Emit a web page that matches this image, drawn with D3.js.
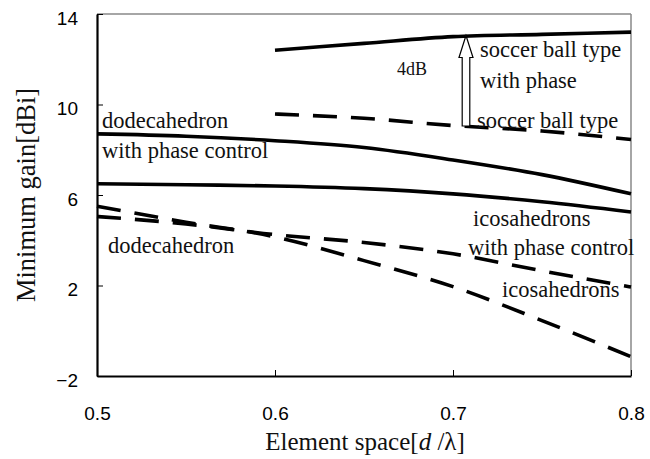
<!DOCTYPE html>
<html>
<head>
<meta charset="utf-8">
<script src="https://cdn.jsdelivr.net/npm/d3@7"></script>
<style>
  body { margin: 0; background: #fff; }
  svg { display: block; }
  .tick text { font-family: "Liberation Sans", Arial, sans-serif; font-size: 19px; fill: #000; }
  .lbl { font-family: "Liberation Serif", "Times New Roman", serif; font-size: 22.5px; fill: #111; }
</style>
</head>
<body>
<figure id="chart" style="margin:0"></figure>
<script>
// element spacing d/lambda
const spacing = [0.5, 0.55, 0.6, 0.65, 0.7, 0.75, 0.8];
const dodecaPhase = [8.7, 8.6, 8.4, 8.1, 7.55, 6.9, 6.05];
const icosaPhase = [6.5, 6.45, 6.4, 6.28, 6.05, 5.7, 5.25];
const dodeca = [5.5, 4.8, 4.15, 3.1, 1.95, 0.45, -1.15];
const icosa = [5.05, 4.72, 4.25, 3.9, 3.4, 2.65, 1.93];
// soccer ball type only computed from 0.6
const soccerSpacing = [0.6, 0.65, 0.7, 0.75, 0.8];
const soccerPhase = [12.4, 12.7, 13.0, 13.1, 13.2];
const soccer = [9.58, 9.39, 9.07, 8.83, 8.45];

const xTicks = [0.5, 0.6, 0.7, 0.8];
const yTicks = [-2, 2, 6, 10, 14];

const width = 650, height = 459;
const margin = { top: 14, right: 19, bottom: 83, left: 97 };

const svg = d3.select('#chart').append('svg')
  .attr('width', width)
  .attr('height', height);

const x = d3.scaleLinear().domain([0.5, 0.8]).range([margin.left, width - margin.right]);
const y = d3.scaleLinear().domain([-2, 14]).range([height - margin.bottom, margin.top]);

// frame: top and right in grey
svg.append('line')
  .attr('x1', x(0.5)).attr('x2', x(0.8))
  .attr('y1', y(14)).attr('y2', y(14))
  .attr('stroke', '#888').attr('stroke-width', 1.5);
svg.append('line')
  .attr('x1', x(0.8)).attr('x2', x(0.8))
  .attr('y1', y(14)).attr('y2', y(-2))
  .attr('stroke', '#888').attr('stroke-width', 1.5);

// axes with inward ticks
const xAxis = svg.append('g')
  .attr('transform', 'translate(0,' + y(-2) + ')')
  .call(d3.axisBottom(x).tickValues(xTicks).tickFormat(d3.format('.1f'))
    .tickSizeInner(-6).tickSizeOuter(0).tickPadding(31));
const yAxis = svg.append('g')
  .attr('transform', 'translate(' + x(0.5) + ',0)')
  .call(d3.axisLeft(y).tickValues(yTicks).tickSizeInner(-6).tickSizeOuter(0).tickPadding(19));

[xAxis, yAxis].forEach(a => {
  a.select('.domain').attr('stroke', '#000').attr('stroke-width', 2.2);
  a.selectAll('.tick line').attr('stroke', '#000').attr('stroke-width', 1);
});
yAxis.selectAll('.tick text').attr('dy', '0.55em');

// series
const line = d3.line()
  .x(d => x(d[0]))
  .y(d => y(d[1]))
  .curve(d3.curveMonotoneX);

const series = [
  { xs: spacing, ys: dodecaPhase, dash: null },
  { xs: spacing, ys: icosaPhase, dash: null },
  { xs: spacing, ys: dodeca, dash: '24,14' },
  { xs: spacing, ys: icosa, dash: '24,14' },
  { xs: soccerSpacing, ys: soccerPhase, dash: null },
  { xs: soccerSpacing, ys: soccer, dash: '24,14' }
];

svg.selectAll('path.series')
  .data(series)
  .enter()
  .append('path')
  .attr('class', 'series')
  .attr('d', s => line(s.xs.map((v, i) => [v, s.ys[i]])))
  .attr('fill', 'none')
  .attr('stroke', '#000')
  .attr('stroke-width', 3.6)
  .attr('stroke-dasharray', s => s.dash);

// hollow arrow showing the 4dB improvement
const ax = x(0.7073), ay0 = y(9.05), ay1 = y(13.05);
const sw = 3.8, hw = 7, hh = 22;
svg.append('path')
  .attr('d', 'M' + (ax - sw) + ',' + ay0 +
    'L' + (ax - sw) + ',' + (ay1 + hh) +
    'L' + (ax - hw) + ',' + (ay1 + hh) +
    'L' + ax + ',' + ay1 +
    'L' + (ax + hw) + ',' + (ay1 + hh) +
    'L' + (ax + sw) + ',' + (ay1 + hh) +
    'L' + (ax + sw) + ',' + ay0 + 'Z')
  .attr('fill', '#fff')
  .attr('stroke', '#000')
  .attr('stroke-width', 1.2);

// labels
const labels = [
  ['dodecahedron', 102, 128],
  ['with phase control', 102, 158],
  ['dodecahedron', 108, 253],
  ['soccer ball type', 480, 57],
  ['with phase', 480, 88],
  ['soccer ball type', 477, 128],
  ['icosahedrons', 473, 226],
  ['with phase control', 468, 255],
  ['icosahedrons', 502, 297]
];
svg.selectAll('text.lbl')
  .data(labels)
  .enter()
  .append('text')
  .attr('class', 'lbl')
  .attr('x', d => d[1])
  .attr('y', d => d[2])
  .text(d => d[0]);

svg.append('text')
  .attr('class', 'lbl')
  .attr('x', 397).attr('y', 75)
  .style('font-size', '18px')
  .text('4dB');

// axis titles
const xt = svg.append('text')
  .attr('class', 'lbl')
  .attr('x', 365).attr('y', 450)
  .attr('text-anchor', 'middle')
  .style('font-size', '25px');
xt.append('tspan').text('Element space[');
xt.append('tspan').style('font-style', 'italic').text('d');
xt.append('tspan').text(' /λ]');

svg.append('text')
  .attr('class', 'lbl')
  .attr('transform', 'translate(35,195) rotate(-90)')
  .attr('text-anchor', 'middle')
  .style('font-size', '26.5px')
  .text('Minimum gain[dBi]');
</script>
</body>
</html>
